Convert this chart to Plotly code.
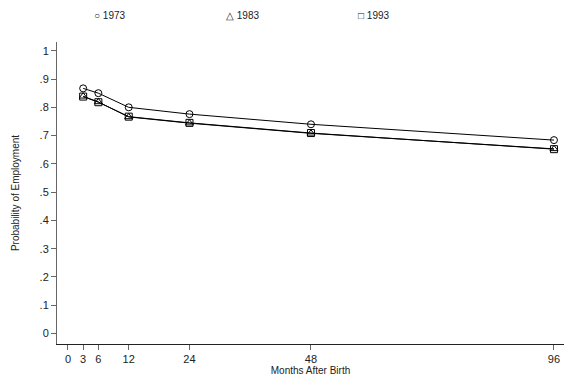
import plotly.graph_objects as go

months = [3, 6, 12, 24, 48, 96]
p1973 = [0.867, 0.850, 0.800, 0.776, 0.740, 0.684]
p1983 = [0.839, 0.819, 0.766, 0.744, 0.708, 0.653]
p1993 = [0.838, 0.818, 0.767, 0.745, 0.709, 0.652]
series = [("1973", p1973, "circle-open"), ("1983", p1983, "triangle-up-open"), ("1993", p1993, "square-open")]
legend_glyphs = {"1973": "○", "1983": "△", "1993": "□"}

xticks = [0, 3, 6, 12, 24, 48, 96]
yticks = [0, 0.1, 0.2, 0.3, 0.4, 0.5, 0.6, 0.7, 0.8, 0.9, 1]
ytext = ["0", ".1", ".2", ".3", ".4", ".5", ".6", ".7", ".8", ".9", "1"]

FONT = "Liberation Sans, Arial, sans-serif"
fig = go.Figure()
for name, vals, sym in series:
    fig.add_trace(go.Scatter(
        x=months, y=vals, mode="lines+markers", name=name,
        line=dict(color="black", width=1),
        marker=dict(symbol=sym, size=7, color="black", line=dict(width=1, color="black")),
        showlegend=False,
    ))

leg_x = [97, 229, 361]
for (name, _, _), px in zip(series, leg_x):
    fig.add_annotation(
        xref="paper", yref="paper",
        x=(px - 5 - 57) / (564 - 57), y=(384 - 15 - 40) / (384 - 42 - 40),
        xanchor="left", yanchor="middle", showarrow=False,
        text=f"<span style='font-size:10px'>{legend_glyphs[name]}</span> {name}",
        font=dict(family=FONT, size=10, color="#222"),
    )

fig.update_layout(
    width=564, height=384,
    margin=dict(l=57, r=0, t=42, b=40),
    paper_bgcolor="white", plot_bgcolor="white",
    font=dict(family=FONT, size=11, color="#222"),
    xaxis=dict(
        range=[-2.17, 97.98], tickvals=xticks, ticktext=[str(t) for t in xticks],
        showgrid=False, zeroline=False, showline=True, linecolor="#222", linewidth=1,
        ticks="outside", ticklen=5, tickcolor="#666", tickfont=dict(size=11),
        title=dict(text="Months After Birth", font=dict(size=10), standoff=0),
    ),
    yaxis=dict(
        range=[-0.037, 1.031], tickvals=yticks, ticktext=ytext,
        showgrid=False, zeroline=False, showline=True, linecolor="#666", linewidth=1,
        ticks="outside", ticklen=5, tickcolor="#666", tickfont=dict(size=11),
        title=dict(text="Probability of Employment", font=dict(size=10), standoff=18),
    ),
)
fig.write_html("out.html")
